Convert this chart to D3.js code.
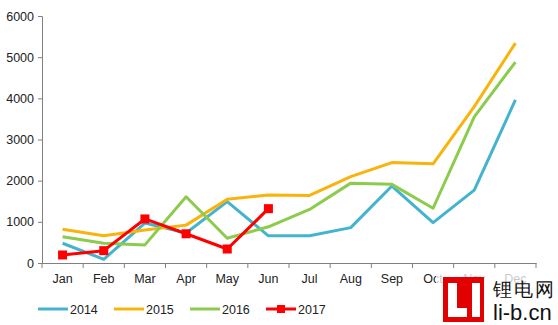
<!DOCTYPE html>
<html><head><meta charset="utf-8">
<script src="https://cdn.jsdelivr.net/npm/d3@7"></script>
<style>body{margin:0;background:#fff}svg{display:block}text{font-family:"Liberation Sans",Arial,sans-serif}</style>
</head><body><svg id="c" width="558" height="325"></svg>
<script>
const months = ["Jan","Feb","Mar","Apr","May","Jun","Jul","Aug","Sep","Oct","Nov","Dec"];
const yTicks = [0,1000,2000,3000,4000,5000,6000];
const seriesNames = ["2014","2015","2016","2017"];
const s2014 = [480, 90, 970, 730, 1490, 660, 660, 860, 1870, 980, 1770, 3960];
const s2015 = [820, 660, 800, 920, 1550, 1650, 1640, 2100, 2440, 2410, 3800, 5340];
const s2016 = [640, 480, 440, 1610, 600, 880, 1300, 1940, 1910, 1330, 3550, 4880];
const s2017 = [195, 300, 1070, 710, 340, 1320];
const colors = ["#44B4CE", "#F8B40C", "#8CCB4C", "#FF0000"];

const svg = d3.select("#c");
const x = d3.scaleBand().domain(months).range([42, 536]);
const y = d3.scaleLinear().domain([0, 6000]).range([263, 16]);

const yAx = svg.append("g").attr("transform","translate(42,0)")
  .call(d3.axisLeft(y).tickValues(yTicks).tickSize(4).tickPadding(4).tickFormat(d3.format("d")));
yAx.selectAll("path,line").attr("stroke","#808080");
yAx.selectAll("text").attr("font-size",12.5).attr("fill","#222");

const xAx = svg.append("g").attr("transform","translate(0,263)")
  .call(d3.axisBottom(x).tickSize(0).tickPadding(11));
xAx.select("path").attr("stroke","#808080");
xAx.selectAll("text").attr("font-size",12.5).attr("fill","#222");
svg.append("g").selectAll("line").data(d3.range(13)).join("line")
  .attr("x1", i => 42 + i*x.step()).attr("x2", i => 42 + i*x.step())
  .attr("y1",263).attr("y2",268).attr("stroke","#808080");

const all = [s2014, s2015, s2016, s2017];
const line = d3.line().x((d,i) => x(months[i]) + x.bandwidth()/2).y(d => y(d));
all.forEach((s, k) => {
  svg.append("path").datum(s).attr("d", line).attr("fill","none")
    .attr("stroke", colors[k]).attr("stroke-width", 3).attr("stroke-linejoin","round");
});
svg.append("g").selectAll("rect").data(s2017).join("rect")
  .attr("x",(d,i)=>x(months[i])+x.bandwidth()/2-4.5).attr("y",d=>y(d)-4.5)
  .attr("width",9).attr("height",9).attr("fill",colors[3]);

const lg = svg.append("g");
seriesNames.forEach((n,k) => {
  const gx = 38 + k*76;
  lg.append("line").attr("x1",gx).attr("x2",gx+30).attr("y1",309).attr("y2",309)
    .attr("stroke",colors[k]).attr("stroke-width",3);
  if (k===3) lg.append("rect").attr("x",gx+11).attr("y",305).attr("width",8).attr("height",8).attr("fill",colors[3]);
  lg.append("text").attr("x",gx+32).attr("y",313.5).attr("font-size",12.5).attr("fill","#222").text(n);
});

// watermark logo
const wm = svg.append("g");
wm.append("rect").attr("x",436).attr("y",274).attr("width",122).attr("height",51).attr("fill","#fff").attr("opacity",0.75);
wm.append("rect").attr("x",443).attr("y",277).attr("width",41).attr("height",45).attr("fill","#E30000");
wm.append("rect").attr("x",448).attr("y",283).attr("width",9).attr("height",34).attr("fill","#fff");
wm.append("rect").attr("x",448).attr("y",308).attr("width",19).attr("height",9).attr("fill","#fff");
wm.append("rect").attr("x",472).attr("y",283).attr("width",8).attr("height",34).attr("fill","#fff");
wm.append("text").attr("x",493).attr("y",296).attr("font-size",18.5).attr("fill","#111")
  .attr("font-family","Noto Sans CJK SC").attr("letter-spacing",2).text("锂电网");
wm.append("text").attr("x",493).attr("y",320).attr("font-size",22).attr("fill","#111").text("li-b.cn");
</script></body></html>
